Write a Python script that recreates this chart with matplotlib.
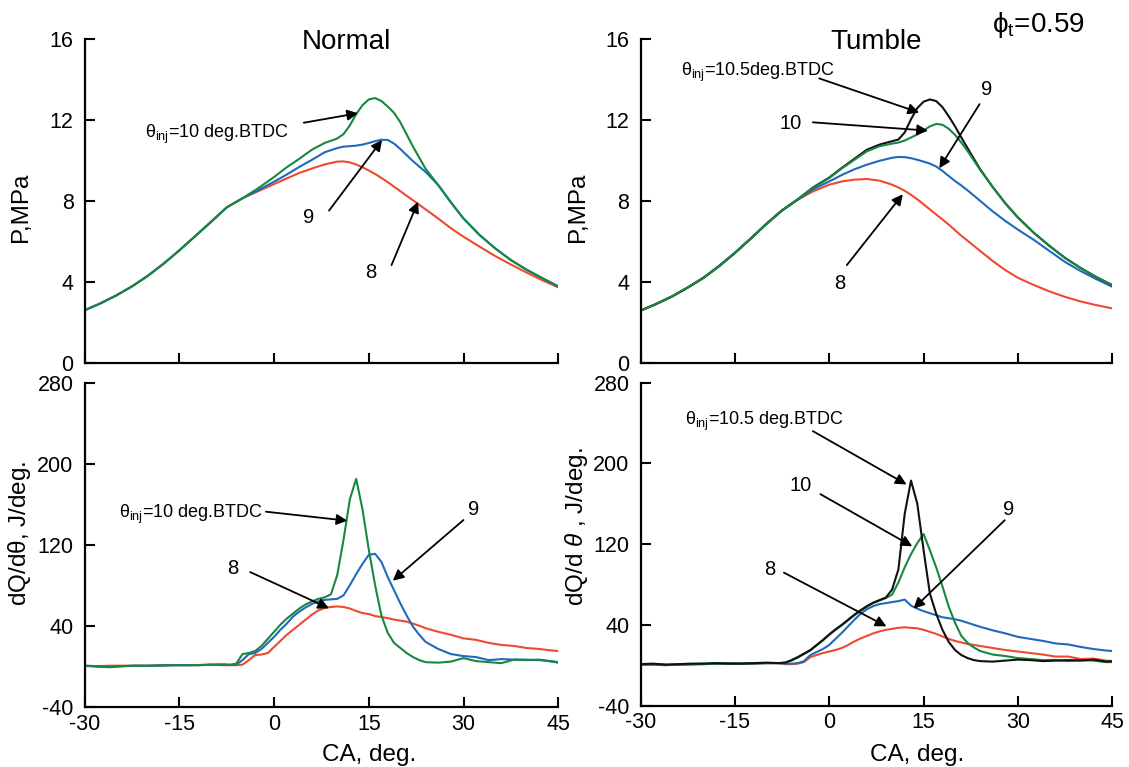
import matplotlib
matplotlib.use("Agg")
import matplotlib.pyplot as plt

plt.rcParams["font.family"] = ["Liberation Sans", "DejaVu Sans"]
plt.rcParams["mathtext.fontset"] = "custom"
plt.rcParams["mathtext.rm"] = "Liberation Sans"
plt.rcParams["mathtext.it"] = "Liberation Sans:italic"
plt.rcParams["mathtext.bf"] = "Liberation Sans:bold"
plt.rcParams["mathtext.fallback"] = "stixsans"
plt.rcParams["axes.unicode_minus"] = False

# ---------------------------------------------------------------- data
# crank angle grid for cylinder pressure, deg.
p_ca = [-30, -27.5, -25, -22.5, -20, -17.5, -15, -12.5, -10, -7.5, -5, -2.5,
        0, 2, 4, 6, 8, 10, 11, 12, 13, 14, 15, 16, 17, 18, 19, 20, 21, 22,
        24, 26, 28, 30, 32.5, 35, 37.5, 40, 42.5, 45]

# Normal chamber, pressure (MPa) for injection timing 8 / 9 / 10 deg BTDC
p_normal_8 = [2.62, 2.96, 3.35, 3.8, 4.32, 4.92, 5.58, 6.28, 6.98, 7.7, 8.15, 8.5,
              8.85, 9.13, 9.4, 9.62, 9.82, 9.96, 9.97, 9.92, 9.82, 9.68, 9.52, 9.35,
              9.15, 8.95, 8.72, 8.5, 8.27, 8.05, 7.6, 7.15, 6.67, 6.25, 5.77, 5.3,
              4.88, 4.48, 4.1, 3.75]
p_normal_9 = [2.62, 2.96, 3.35, 3.8, 4.32, 4.92, 5.58, 6.28, 6.98, 7.7, 8.15, 8.55,
              8.97, 9.32, 9.7, 10.05, 10.42, 10.63, 10.7, 10.72, 10.75, 10.8, 10.88, 10.97,
              11.04, 11.03, 10.85, 10.58, 10.28, 9.98, 9.45, 8.8, 7.95, 7.15, 6.35, 5.68,
              5.1, 4.62, 4.2, 3.8]
p_normal_10 = [2.62, 2.96, 3.35, 3.8, 4.32, 4.92, 5.58, 6.28, 6.98, 7.7, 8.15, 8.65,
               9.2, 9.68, 10.1, 10.55, 10.88, 11.1, 11.32, 11.75, 12.3, 12.75, 13.03, 13.1,
               12.95, 12.68, 12.37, 11.9, 11.3, 10.7, 9.6, 8.8, 7.95, 7.15, 6.35, 5.68,
               5.1, 4.62, 4.2, 3.8]

# Tumble chamber, pressure (MPa) for injection timing 8 / 9 / 10 / 10.5 deg BTDC
p_tumble_8 = [2.6, 2.93, 3.3, 3.74, 4.22, 4.8, 5.45, 6.15, 6.88, 7.55, 8.08, 8.5,
              8.82, 8.98, 9.07, 9.1, 9.02, 8.82, 8.68, 8.52, 8.32, 8.1, 7.85, 7.6,
              7.35, 7.1, 6.85, 6.57, 6.3, 6.05, 5.55, 5.05, 4.6, 4.22, 3.87, 3.55,
              3.28, 3.05, 2.87, 2.71]
p_tumble_9 = [2.6, 2.93, 3.3, 3.74, 4.22, 4.8, 5.45, 6.15, 6.88, 7.55, 8.08, 8.6,
              8.98, 9.3, 9.58, 9.81, 10.0, 10.15, 10.19, 10.18, 10.13, 10.05, 9.96, 9.86,
              9.72, 9.5, 9.25, 9.0, 8.78, 8.54, 8.02, 7.5, 7.03, 6.6, 6.1, 5.55,
              5.0, 4.55, 4.15, 3.78]
p_tumble_10 = [2.6, 2.93, 3.3, 3.74, 4.22, 4.8, 5.45, 6.15, 6.88, 7.55, 8.1, 8.68,
               9.15, 9.62, 10.05, 10.47, 10.72, 10.85, 10.9, 11.0, 11.15, 11.3, 11.5, 11.7,
               11.82, 11.78, 11.58, 11.28, 10.9, 10.48, 9.55, 8.7, 7.9, 7.2, 6.45, 5.8,
               5.2, 4.7, 4.25, 3.86]
p_tumble_105 = [2.6, 2.93, 3.3, 3.74, 4.22, 4.8, 5.45, 6.15, 6.88, 7.55, 8.1, 8.7,
                9.17, 9.65, 10.1, 10.55, 10.8, 10.97, 11.05, 11.4, 12.05, 12.6, 12.92, 13.03,
                12.95, 12.65, 12.2, 11.7, 11.15, 10.62, 9.58, 8.7, 7.9, 7.2, 6.45, 5.8,
                5.2, 4.7, 4.25, 3.86]

# crank angle grid for heat release rate, deg.
q_ca = [-30, -28, -26, -24, -22, -20, -18, -16, -14, -12, -10, -8,
        -7, -6, -5, -4, -3, -2, -1, 0, 1, 2, 3, 4, 5, 6, 7, 8, 9, 10, 11, 12,
        13, 14, 15, 16, 17, 18, 19, 20, 21, 22, 23, 24,
        26, 28, 30, 32, 34, 36, 38, 40, 42, 44, 45]

# Normal chamber, heat release rate (J/deg.)
q_normal_8 = [0.5, 0, 0.5, 0.5, 0.5, 0.5, 1, 1, 1, 1, 1.5, 1,
              1, 1, 1.5, 6, 11, 11.5, 13, 19, 25, 31, 36, 41, 46, 51, 55, 57.5, 58.5, 59,
              58.5, 57, 54.5, 52.5, 51.5, 49.5, 48.5, 47.5, 46, 45, 44, 42, 40, 37.5,
              34, 31, 27.5, 26, 23, 21, 20, 18, 17, 15.5, 15]
q_normal_9 = [0.5, 0, -0.5, 0, 0.5, 0.5, 0.5, 1, 1, 1, 1.5, 1.5,
              1.2, 1.5, 6, 12, 13, 17, 23, 29, 36, 42, 49, 54, 58, 61.5, 64, 65.5, 66, 66.5,
              70, 80, 91, 101, 110, 111, 103, 88, 75, 62, 50, 39, 31, 24,
              17, 12, 10, 9, 6, 7, 6.5, 6.5, 6, 5, 4]
q_normal_10 = [0.3, -0.5, -1, 0, 0.5, 0.3, 0.8, 1, 1, 1.2, 1.5, 1.8,
               1.5, 2.5, 12, 13, 15, 20, 27, 34, 41, 47, 52, 57, 61, 64, 66.5, 68, 71, 90,
               125, 165, 185, 155, 115, 80, 50, 33, 23, 18, 13, 9, 6, 4,
               3.5, 4.5, 8, 5, 4, 3, 6.5, 6, 6.5, 4.5, 3.5]

# Tumble chamber, heat release rate (J/deg.)
q_tumble_8 = [1, 0.5, 0, 0.5, 0.5, 1, 1.5, 1.5, 1.5, 1.5, 2, 2,
              1, 1, 1.5, 3, 8, 10, 12, 13.5, 15, 17, 20, 23.5, 26.5, 29, 31.5, 33.5, 35, 36,
              37, 37.5, 37, 36.5, 35, 33, 31, 28.5, 26, 24, 22.5, 21, 20, 19,
              17, 15, 13.5, 12, 10.5, 8.5, 8.5, 6, 6.5, 4.5, 4]
q_tumble_9 = [0.5, 0.5, 0, 0.5, 1, 1, 1.5, 1.5, 1.5, 1.5, 2, 2,
              1.5, 1.5, 2, 4, 10, 13, 16, 20, 26, 32, 38.5, 45, 51, 55.5, 58.5, 60.5, 61.5, 62.5,
              63.5, 65, 59, 56, 53.5, 51.5, 49.5, 47.5, 46.5, 45.5, 44, 42, 40, 38,
              34.5, 31.5, 28, 26, 24, 21.5, 20.5, 18, 16, 14.5, 14]
q_tumble_10 = [0.5, 1, 0.5, 0.5, 1, 1.5, 1.5, 2, 1.5, 2, 2, 2,
               2.5, 4.5, 7.5, 11, 14.5, 19.5, 24.5, 30, 35, 39.5, 44.5, 49.5, 54, 58, 61.5, 64, 66.5, 70,
               82, 97, 110, 121, 130, 114, 97, 78, 58, 42, 29, 22, 17.5, 14,
               10.5, 9, 7, 6, 5, 5, 4, 5, 4.5, 3, 3]
q_tumble_105 = [1, 1.5, 0.5, 1, 1.5, 1.5, 2, 1.5, 1.5, 2, 2.5, 2,
                2.5, 5, 8, 11.5, 15, 20, 25, 30.5, 35.5, 40, 45, 50, 54.5, 58.5, 62, 64.5, 67, 75,
                95, 150, 183, 160, 114, 71, 51, 35, 23, 15, 10, 7, 5, 4,
                3.5, 4.5, 5.5, 5, 4, 4.5, 5, 4.5, 5.5, 3.5, 4]

x_ticks = [-30, -15, 0, 15, 30, 45]
p_ticks = [0, 4, 8, 12, 16]
q_ticks = [-40, 40, 120, 200, 280]

RED = "#ee4a2f"
BLUE = "#2069bd"
GREEN = "#17883f"
BLACK = "#111111"
LW = 1.5

# ---------------------------------------------------------------- layout
W, H = 1129, 767
fig = plt.figure(figsize=(W / 100, H / 100), dpi=100)


def box(x0, x1, y_top, y_bot):
    return [x0 / W, 1 - y_bot / H, (x1 - x0) / W, (y_bot - y_top) / H]


ax_pn = fig.add_axes(box(84.7, 558.2, 39.3, 363.3))
ax_pt = fig.add_axes(box(640.5, 1112.3, 39.3, 363.3))
ax_qn = fig.add_axes(box(84.7, 558.2, 382.7, 706.7))
ax_qt = fig.add_axes(box(640.5, 1112.3, 382.7, 705.5))


def style(ax, ylim, yticks, xlabels):
    ax.set_xlim(-30, 45)
    ax.set_ylim(*ylim)
    ax.set_xticks(x_ticks)
    ax.set_yticks(yticks)
    for side in ("top", "right"):
        ax.spines[side].set_visible(False)
    for side in ("left", "bottom"):
        ax.spines[side].set_linewidth(1.6)
    ax.tick_params(direction="in", length=7, width=1.5, labelsize=15.5, pad=5)
    ax.tick_params(axis="y", pad=8)
    if not xlabels:
        ax.tick_params(labelbottom=False)


style(ax_pn, (0, 16), p_ticks, False)
style(ax_pt, (0, 16), p_ticks, False)
style(ax_qn, (-40, 280), q_ticks, True)
style(ax_qt, (-40, 280), q_ticks, True)

# ---------------------------------------------------------------- curves
ax_pn.plot(p_ca, p_normal_8, color=RED, lw=LW)
ax_pn.plot(p_ca, p_normal_9, color=BLUE, lw=LW)
ax_pn.plot(p_ca, p_normal_10, color=GREEN, lw=LW)

ax_pt.plot(p_ca, p_tumble_8, color=RED, lw=LW)
ax_pt.plot(p_ca, p_tumble_9, color=BLUE, lw=LW)
ax_pt.plot(p_ca, p_tumble_105, color=BLACK, lw=LW)
ax_pt.plot(p_ca, p_tumble_10, color=GREEN, lw=LW)

ax_qn.plot(q_ca, q_normal_8, color=RED, lw=LW)
ax_qn.plot(q_ca, q_normal_9, color=BLUE, lw=LW)
ax_qn.plot(q_ca, q_normal_10, color=GREEN, lw=LW)

ax_qt.plot(q_ca, q_tumble_8, color=RED, lw=LW)
ax_qt.plot(q_ca, q_tumble_9, color=BLUE, lw=LW)
ax_qt.plot(q_ca, q_tumble_10, color=GREEN, lw=LW)
ax_qt.plot(q_ca, q_tumble_105, color=BLACK, lw=LW)

# ---------------------------------------------------------------- labels
ANN = 13
NUM = 14.5
THETA = r"$\mathrm{\theta_{inj}}$"
arrow = dict(arrowstyle="-|>", color="black", lw=1.3, mutation_scale=16,
             shrinkA=0, shrinkB=0)


def pointer(ax, tail, head):
    ax.annotate("", xy=head, xytext=tail, arrowprops=arrow, annotation_clip=False)


# pressure, normal chamber
ax_pn.text(11.5, 15.85, "Normal", fontsize=20, ha="center", va="center")
ax_pn.text(-20.4, 11.14, THETA + "=10 deg.BTDC", fontsize=ANN, ha="left", va="baseline")
pointer(ax_pn, (4.7, 11.88), (13.3, 12.35))
ax_pn.text(5.4, 7.18, "9", fontsize=NUM, ha="center", va="center")
pointer(ax_pn, (8.7, 7.54), (17.1, 11.03))
ax_pn.text(15.35, 4.46, "8", fontsize=NUM, ha="center", va="center")
pointer(ax_pn, (18.6, 4.85), (22.8, 7.98))

# pressure, tumble chamber
ax_pt.text(7.4, 15.85, "Tumble", fontsize=20, ha="center", va="center")
ax_pt.text(25.9, 16.38, r"$\mathrm{\phi_t}$=0.59", fontsize=20, ha="left", va="baseline")
ax_pt.text(-23.6, 14.19, THETA + "=10.5deg.BTDC", fontsize=ANN, ha="left", va="baseline")
pointer(ax_pt, (-1.6, 14.07), (14.3, 12.38))
ax_pt.text(-6.2, 11.82, "10", fontsize=NUM, ha="center", va="center")
pointer(ax_pt, (-2.6, 11.9), (15.7, 11.49))
ax_pt.text(25.1, 13.5, "9", fontsize=NUM, ha="center", va="center")
pointer(ax_pt, (23.9, 12.8), (17.5, 9.63))
ax_pt.text(1.6, 3.95, "8", fontsize=NUM, ha="center", va="center")
pointer(ax_pt, (2.8, 4.85), (11.7, 8.35))

# heat release, normal chamber
ax_qn.text(-24.6, 146.1, THETA + "=10 deg.BTDC", fontsize=ANN, ha="left", va="baseline")
pointer(ax_qn, (-1.3, 152.6), (11.6, 143.7))
ax_qn.text(31.6, 154.3, "9", fontsize=NUM, ha="center", va="center")
pointer(ax_qn, (30.0, 144.4), (18.8, 84.4))
ax_qn.text(-6.6, 96, "8", fontsize=NUM, ha="center", va="center")
pointer(ax_qn, (-3.8, 93.0), (8.7, 57.2))

# heat release, tumble chamber
ax_qt.text(-23.0, 238, THETA + "=10.5 deg.BTDC", fontsize=ANN, ha="left", va="baseline")
pointer(ax_qt, (-2.6, 232), (12.3, 179.1))
ax_qt.text(-4.6, 178.4, "10", fontsize=NUM, ha="center", va="center")
pointer(ax_qt, (-1.4, 169.5), (13.2, 117.8))
ax_qt.text(28.5, 154.3, "9", fontsize=NUM, ha="center", va="center")
pointer(ax_qt, (27.9, 143.7), (13.4, 56))
ax_qt.text(-9.5, 95, "8", fontsize=NUM, ha="center", va="center")
pointer(ax_qt, (-7.2, 91.7), (9.1, 38.4))

# axis titles
LAB = 17.5
fig.text(21 / W, 1 - 207 / H, "P,MPa", rotation=90, ha="center", va="center", fontsize=LAB)
fig.text(578 / W, 1 - 207 / H, "P,MPa", rotation=90, ha="center", va="center", fontsize=LAB)
fig.text(20 / W, 1 - 533 / H, r"dQ/d$\mathrm{\theta}$, J/deg.", rotation=90,
         ha="center", va="center", fontsize=LAB)
fig.text(577 / W, 1 - 527 / H, r"dQ/d $\mathit{\theta}$ , J/deg.", rotation=90,
         ha="center", va="center", fontsize=LAB)
fig.text(369 / W, 1 - 755 / H, "CA, deg.", ha="center", va="center", fontsize=LAB)
fig.text(917 / W, 1 - 755 / H, "CA, deg.", ha="center", va="center", fontsize=LAB)

fig.savefig("out.png", dpi=100)
